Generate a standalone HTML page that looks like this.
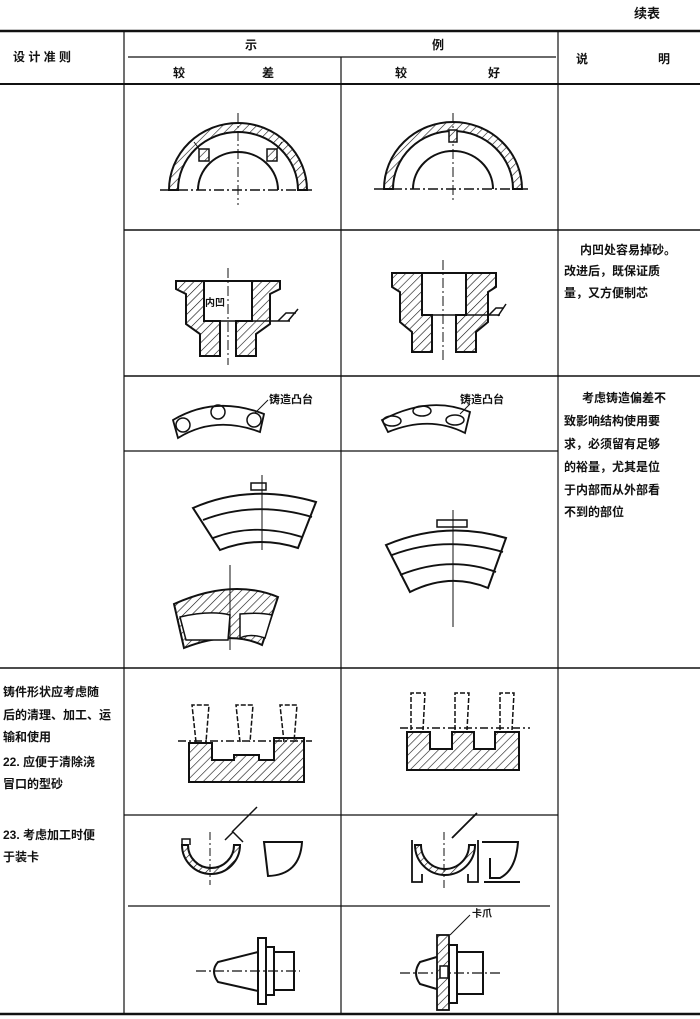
<!DOCTYPE html>
<html><head><meta charset="utf-8"><style>
html,body{margin:0;padding:0;background:#fff;}
svg{display:block;}
text{font-family:"Liberation Sans","Noto Sans CJK SC",sans-serif;font-weight:bold;fill:#111;}
</style></head><body>
<svg width="700" height="1019" viewBox="0 0 700 1019" xmlns="http://www.w3.org/2000/svg">
<defs>
<pattern id="h" width="6" height="6" patternUnits="userSpaceOnUse" patternTransform="rotate(45)">
<rect width="6" height="6" fill="#fff"/><line x1="0" y1="0" x2="0" y2="6" stroke="#111" stroke-width="1.2"/></pattern>
</defs>
<g stroke="#111" fill="none">
<!-- table lines -->
<line x1="0" y1="31" x2="700" y2="31" stroke-width="2.5"/>
<line x1="0" y1="84" x2="700" y2="84" stroke-width="2"/>
<line x1="124" y1="31" x2="124" y2="1013" stroke-width="1.2"/>
<line x1="558" y1="31" x2="558" y2="1013" stroke-width="1.2"/>
<line x1="341" y1="57" x2="341" y2="1013" stroke-width="1.2"/>
<line x1="128" y1="57" x2="556" y2="57" stroke-width="1.2"/>
<line x1="124" y1="230" x2="700" y2="230" stroke-width="1.5"/>
<line x1="124" y1="376" x2="700" y2="376" stroke-width="1.5"/>
<line x1="124" y1="451" x2="558" y2="451" stroke-width="1.2"/>
<line x1="0" y1="668" x2="700" y2="668" stroke-width="1.5"/>
<line x1="124" y1="815" x2="558" y2="815" stroke-width="1.2"/>
<line x1="128" y1="906" x2="550" y2="906" stroke-width="1.2"/>
<line x1="0" y1="1014" x2="700" y2="1014" stroke-width="2.5"/>

<!-- row1 semicircles -->
<path d="M169,190 A69,67 0 0 1 307,190 L298,190 A60,58 0 0 0 178,190 Z" fill="url(#h)" stroke-width="2"/>
<path d="M198,190 A40,38 0 0 1 278,190" stroke-width="2"/>
<line x1="160" y1="190" x2="312" y2="190" stroke-width="1.5" stroke-dasharray="10,3,2,3"/>
<line x1="238" y1="113" x2="238" y2="205" stroke-width="1" stroke-dasharray="10,3,2,3"/>
<path d="M200,150 l-6,-8 M276,150 l6,-8" stroke-width="1"/>
<rect x="199" y="149" width="10" height="12" fill="url(#h)" stroke-width="1.5"/>
<rect x="267" y="149" width="10" height="12" fill="url(#h)" stroke-width="1.5"/>
<path d="M384,189 A69,67 0 0 1 522,189 L513,189 A60,58 0 0 0 393,189 Z" fill="url(#h)" stroke-width="2"/>
<path d="M413,189 A40,38 0 0 1 493,189" stroke-width="2"/>
<line x1="374" y1="189" x2="530" y2="189" stroke-width="1.5" stroke-dasharray="10,3,2,3"/>
<line x1="453" y1="113" x2="453" y2="203" stroke-width="1" stroke-dasharray="10,3,2,3"/>
<rect x="449" y="130" width="8" height="12" fill="url(#h)" stroke-width="1.5"/>

<!-- row2 flanges -->
<path d="M176,281 h28 v40 h16 v35 h-20 v-22 l-14,-10 v-30 l-10,-5 Z" fill="url(#h)" stroke-width="2"/>
<path d="M280,281 h-28 v40 h-16 v35 h20 v-22 l14,-10 v-30 l10,-5 Z" fill="url(#h)" stroke-width="2"/>
<line x1="204" y1="281" x2="252" y2="281" stroke-width="2"/>
<line x1="204" y1="321" x2="290" y2="321" stroke-width="1.5"/>
<line x1="228" y1="268" x2="228" y2="365" stroke-width="1" stroke-dasharray="10,3,2,3"/>
<path d="M278,321 l8,-8 h10 M288,321 l10,-12" stroke-width="1.5"/>
<path d="M392,273 h30 v42 h10 v37 h-20 v-20 l-12,-10 v-30 l-8,-5 Z" fill="url(#h)" stroke-width="2"/>
<path d="M496,273 h-30 v42 h-10 v37 h20 v-20 l12,-10 v-30 l8,-5 Z" fill="url(#h)" stroke-width="2"/>
<line x1="422" y1="273" x2="466" y2="273" stroke-width="2"/>
<line x1="422" y1="315" x2="500" y2="315" stroke-width="1.5"/>
<line x1="443" y1="260" x2="443" y2="360" stroke-width="1" stroke-dasharray="10,3,2,3"/>
<path d="M488,316 l8,-8 h8 M498,316 l8,-12" stroke-width="1.5"/>

<!-- row3 bosses -->
<path d="M173,420 Q215,395 264,414 L260,432 Q215,415 178,438 Z" stroke-width="1.8"/>
<circle cx="183" cy="425" r="7" stroke-width="1.5"/><circle cx="218" cy="412" r="7" stroke-width="1.5"/><circle cx="254" cy="420" r="7" stroke-width="1.5"/>
<line x1="255" y1="413" x2="268" y2="400" stroke-width="1"/>
<path d="M382,420 Q430,395 470,412 L465,433 Q430,415 388,432 Z" stroke-width="1.8"/>
<ellipse cx="392" cy="421" rx="9" ry="5" stroke-width="1.5"/><ellipse cx="422" cy="411" rx="9" ry="5" stroke-width="1.5"/><ellipse cx="455" cy="420" rx="9" ry="5" stroke-width="1.5"/>
<line x1="460" y1="414" x2="470" y2="404" stroke-width="1"/>

<!-- row3 segments -->
<path d="M193,508 Q250,483 316,502 L298,548 Q258,535 220,550 Z" stroke-width="2"/>
<path d="M203,520 Q255,500 312,517 M213,538 Q255,522 302,537" stroke-width="1.8"/>
<rect x="251" y="483" width="15" height="7" stroke-width="1.5"/>
<line x1="262" y1="475" x2="262" y2="550" stroke-width="1"/>
<path d="M174,604 Q232,578 278,597 L262,645 Q230,630 184,648 Z" fill="url(#h)" stroke-width="2"/>
<path d="M180,617 Q210,610 230,615 L228,640 Q205,640 186,640 Z M240,614 Q260,612 272,615 L265,638 Q250,633 240,638 Z" fill="#fff" stroke-width="1.5"/>
<line x1="230" y1="565" x2="230" y2="650" stroke-width="1"/>
<path d="M386,545 Q445,520 506,538 L488,588 Q450,572 410,592 Z" stroke-width="2"/>
<path d="M392,555 Q445,535 503,552 M400,575 Q450,555 496,572" stroke-width="1.8"/>
<rect x="437" y="520" width="30" height="7" stroke-width="1.5"/>
<line x1="453" y1="510" x2="453" y2="627" stroke-width="1"/>

<!-- row4 -->
<path d="M189,743 h23 v17 h22 v-5 h25 v5 h15 v-22 h30 v44 h-115 Z" fill="url(#h)" stroke-width="2"/>
<line x1="178" y1="741" x2="312" y2="741" stroke-width="1.5" stroke-dasharray="8,3,2,3"/>
<path d="M196,742 l-4,-37 h17 l-3,37 M240,742 l-4,-37 h17 l-3,37 M284,742 l-4,-37 h17 l-3,37" stroke-width="1.5" stroke-dasharray="5,2"/>
<path d="M407,732 h23 v17 h22 v-17 h22 v17 h21 v-17 h24 v38 h-112 Z" fill="url(#h)" stroke-width="2"/>
<line x1="400" y1="728" x2="530" y2="728" stroke-width="1.5" stroke-dasharray="8,3,2,3"/>
<path d="M411,730 l0,-37 h14 l-2,37 M455,730 l0,-37 h14 l-2,37 M500,730 l0,-37 h14 l-2,37" stroke-width="1.5" stroke-dasharray="5,2"/>

<!-- row5 -->
<path d="M182,845 A28,28 0 0 0 240,845 L234,845 A22,22 0 0 1 188,845 Z" fill="url(#h)" stroke-width="2"/>
<path d="M182,845 v-6 h8 v6 M225,840 l8,-8 l10,10 M232,832 l25,-25" stroke-width="1.5"/>
<path d="M264,842 h38 v0 Q300,875 268,876 Z" stroke-width="2"/>
<line x1="210" y1="832" x2="210" y2="885" stroke-width="1" stroke-dasharray="8,3,2,3"/>
<path d="M415,845 A30,30 0 0 0 475,845 L469,845 A24,24 0 0 1 421,845 Z" fill="url(#h)" stroke-width="2"/>
<path d="M412,840 v42 h10 v-8 M478,840 v42 h-10 v-8 M452,838 l25,-25" stroke-width="1.8"/>
<path d="M482,842 h36 Q516,870 500,878 h-10 v-20 M484,882 h36" stroke-width="2"/>
<line x1="444" y1="832" x2="444" y2="890" stroke-width="1" stroke-dasharray="8,3,2,3"/>

<!-- row6 -->
<line x1="196" y1="971" x2="300" y2="971" stroke-width="1.2" stroke-dasharray="10,3,2,3"/>
<path d="M258,952 L218,962 Q210,971 218,982 L258,991 Z" stroke-width="2"/>
<rect x="258" y="938" width="8" height="66" stroke-width="2"/>
<rect x="266" y="947" width="8" height="48" stroke-width="2"/>
<rect x="274" y="952" width="20" height="38" stroke-width="2"/>
<line x1="400" y1="973" x2="500" y2="973" stroke-width="1.2" stroke-dasharray="10,3,2,3"/>
<path d="M440,956 L420,962 Q412,973 420,984 L440,990 Z" stroke-width="2"/>
<rect x="437" y="935" width="12" height="75" fill="url(#h)" stroke-width="1.8"/>
<rect x="440" y="966" width="8" height="12" fill="#fff" stroke-width="1.5"/>
<rect x="449" y="945" width="8" height="58" stroke-width="2"/>
<rect x="457" y="952" width="26" height="42" stroke-width="2"/>
<line x1="450" y1="935" x2="470" y2="915" stroke-width="1"/>
</g>
<g font-size="12">
<text x="634" y="18" font-size="13">续表</text>
<text x="13" y="61">设 计 准 则</text>
<text x="245" y="49" font-weight="normal">示</text>
<text x="432" y="49" font-weight="normal">例</text>
<text x="173" y="77">较</text><text x="262" y="77">差</text>
<text x="395" y="77">较</text><text x="488" y="77">好</text>
<text x="576" y="63">说</text><text x="658" y="63">明</text>
<text x="580" y="254">内凹处容易掉砂。</text>
<text x="564" y="275">改进后，既保证质</text>
<text x="564" y="297">量，又方便制芯</text>
<text x="582" y="402">考虑铸造偏差不</text>
<text x="564" y="425">致影响结构使用要</text>
<text x="564" y="448">求，必须留有足够</text>
<text x="564" y="471">的裕量，尤其是位</text>
<text x="564" y="494">于内部而从外部看</text>
<text x="564" y="516">不到的部位</text>
<text x="3" y="696">铸件形状应考虑随</text>
<text x="3" y="719">后的清理、加工、运</text>
<text x="3" y="741">输和使用</text>
<text x="3" y="766">22. 应便于清除浇</text>
<text x="3" y="788">冒口的型砂</text>
<text x="3" y="839">23. 考虑加工时便</text>
<text x="3" y="861">于装卡</text>
<text x="269" y="403" font-size="11">铸造凸台</text>
<text x="460" y="403" font-size="11">铸造凸台</text>
<text x="205" y="306" font-size="10">内凹</text>
<text x="472" y="917" font-size="10" font-weight="normal">卡爪</text>
</g>
</svg>
</body></html>
